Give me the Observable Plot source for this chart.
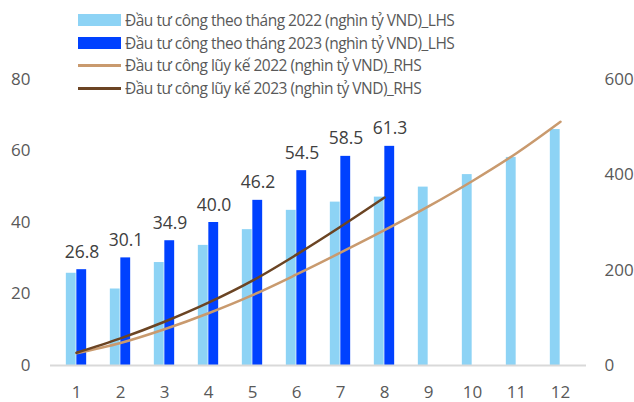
<!DOCTYPE html>
<html>
<head>
<meta charset="utf-8">
<script src="https://cdn.jsdelivr.net/npm/d3@7"></script>
<script src="https://cdn.jsdelivr.net/npm/@observablehq/plot@0.6"></script>
<style>
  html, body { margin: 0; padding: 0; background: #fff; }
  #wrap { position: relative; width: 634px; height: 402px; overflow: hidden; font-family: "Open Sans", sans-serif; }
  #legend { position: absolute; left: 78px; top: 9px; font-family: "Open Sans", sans-serif; font-size: 15.5px; letter-spacing: -0.5px; color: #595959; }
  .row { position: absolute; left: 0; height: 22px; display: flex; align-items: center; white-space: nowrap; }
  .sw { width: 43px; margin-right: 4px; }
</style>
</head>
<body>
<div id="wrap">
  <div id="chart"></div>
  <div id="legend"></div>
</div>
<script>
const months = [1, 2, 3, 4, 5, 6, 7, 8, 9, 10, 11, 12];
const monthly2022 = [25.8, 21.4, 28.8, 33.6, 38.0, 43.4, 45.7, 47.1, 49.9, 53.4, 58.2, 66.0];
const monthly2023 = [26.8, 30.1, 34.9, 40.0, 46.2, 54.5, 58.5, 61.3];
const cumulative2022 = [25.8, 47.2, 76.0, 109.6, 147.6, 191.0, 236.7, 283.8, 333.7, 387.1, 445.3, 511.3];
const cumulative2023 = [26.8, 56.9, 91.8, 131.8, 178.0, 232.5, 291.0, 352.3];
const leftTicks = [0, 20, 40, 60, 80];
const rightTicks = [0, 200, 400, 600];
const seriesNames = [
  "Đầu tư công theo tháng 2022 (nghìn tỷ VND)_LHS",
  "Đầu tư công theo tháng 2023 (nghìn tỷ VND)_LHS",
  "Đầu tư công lũy kế 2022 (nghìn tỷ VND)_RHS",
  "Đầu tư công lũy kế 2023 (nghìn tỷ VND)_RHS"
];
const colors = ["#8dd3f5", "#0041ff", "#c99a6e", "#6b4423"];

const ratio = 600 / 80; // right axis / left axis

const rows = arr => arr.map((v, i) => ({month: months[i], value: v}));
const d22 = rows(monthly2022), d23 = rows(monthly2023);
const c22 = rows(cumulative2022), c23 = rows(cumulative2023);

const step = (586 - 50) / 12;
const barW = 10.5;

const plot = Plot.plot({
  width: 634,
  height: 402,
  marginLeft: 50,
  marginRight: 48,
  marginTop: 79,
  marginBottom: 37,
  style: {fontFamily: "'Open Sans', sans-serif", fontSize: "17px", color: "#595959", background: "transparent"},
  x: {type: "band", domain: months, padding: 0, axis: null},
  y: {domain: [0, 80], axis: null},
  marks: [
    Plot.barY(d22, {x: "month", y: "value", fill: colors[0], insetLeft: step / 2 - barW, insetRight: step / 2}),
    Plot.barY(d23, {x: "month", y: "value", fill: colors[1], insetLeft: step / 2, insetRight: step / 2 - barW}),
    Plot.ruleY([0], {stroke: "#d9d9d9", strokeWidth: 2}),
    Plot.line(c22, {x: "month", y: d => d.value / ratio, stroke: colors[2], strokeWidth: 2.5, curve: "catmull-rom"}),
    Plot.line(c23, {x: "month", y: d => d.value / ratio, stroke: colors[3], strokeWidth: 2.5, curve: "catmull-rom"}),
    Plot.text(d23, {x: "month", y: "value", text: d => d.value.toFixed(1), dx: 5.5, dy: -12, lineAnchor: "bottom", fill: "#404040", fontSize: 17.5}),
    Plot.axisX({tickSize: 0, tickPadding: 20, fontSize: 17, label: null}),
    Plot.axisY({anchor: "left", ticks: leftTicks, tickSize: 0, tickPadding: 20, fontSize: 17, label: null}),
    Plot.axisY({anchor: "right", ticks: rightTicks.map(v => v / ratio), tickFormat: v => String(Math.round(v * ratio)), tickSize: 0, tickPadding: 18, fontSize: 17, label: null})
  ]
});
document.getElementById("chart").appendChild(plot);

const legend = document.getElementById("legend");
const tops = [0, 22.7, 45.3, 68];
seriesNames.forEach((name, i) => {
  const r = document.createElement("div");
  r.className = "row";
  r.style.top = tops[i] + "px";
  const sw = document.createElement("div");
  sw.className = "sw";
  sw.style.background = colors[i];
  sw.style.height = i < 2 ? "12px" : "3px";
  r.appendChild(sw);
  const t = document.createElement("span");
  t.textContent = name;
  r.appendChild(t);
  legend.appendChild(r);
});
</script>
</body>
</html>
